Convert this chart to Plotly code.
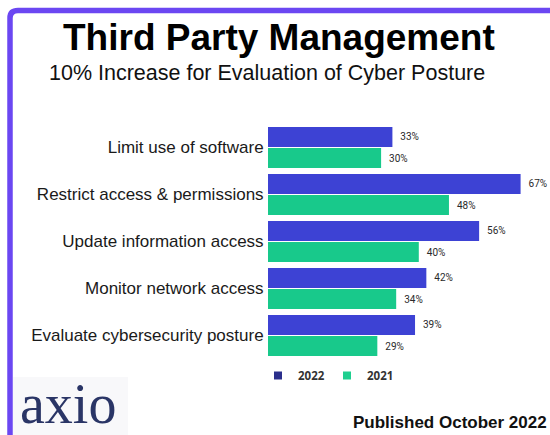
import plotly.graph_objects as go

categories = ["Limit use of software", "Restrict access & permissions",
              "Update information access", "Monitor network access",
              "Evaluate cybersecurity posture"]
values_2022 = [33, 67, 56, 42, 39]
values_2021 = [30, 48, 40, 34, 29]
series_names = ["2022", "2021"]

W, H = 550, 435
L, R, T, B = 268, 4, 124, 76
PW, PH = W - L - R, H - T - B

def px(x):
    return (x - L) / PW

def py(y):
    return (H - B - y) / PH

blue = "#3D42D4"
green = "#18C98B"
legend_blue = "#2B2F8C"
legend_green = "#1FCF8F"

fig = go.Figure()
for name, vals, col in [(series_names[0], values_2022, blue), (series_names[1], values_2021, green)]:
    fig.add_trace(go.Bar(
        y=categories, x=vals, orientation="h", name=name,
        marker=dict(color=col, line=dict(width=0)),
        text=[f"{v}%" for v in vals], texttemplate="  %{text}",
        textposition="outside", cliponaxis=False,
        textfont=dict(family="Liberation Sans Narrow, Roboto, Arial", size=10, color="#2A2A2A"),
        showlegend=False,
    ))

for name, col in [(series_names[0], legend_blue), (series_names[1], legend_green)]:
    fig.add_trace(go.Scatter(
        x=[None], y=[None], mode="markers", name=name,
        marker=dict(symbol="square", size=8, color=col), showlegend=True,
    ))

shapes = [
    dict(type="rect", xref="paper", yref="paper", x0=px(13), x1=px(128), y0=py(377), y1=py(437),
         fillcolor="#F8F8FA", line=dict(width=0), layer="below"),
    dict(type="path", xref="paper", yref="paper",
         path=(f"M {px(10)},{py(440)} L {px(10)},{py(18)} "
               f"Q {px(10)},{py(10.5)} {px(18)},{py(10.5)} L {px(555)},{py(10.5)}"),
         line=dict(color="#6B47F2", width=5.5)),
]

annotations = [
    dict(text="<b>Third Party Management</b>", x=px(279), y=py(38), xref="paper", yref="paper",
         showarrow=False, xanchor="center", yanchor="middle",
         font=dict(family="Liberation Sans, Arial", size=37, color="#000000")),
    dict(text="10% Increase for Evaluation of Cyber Posture", x=px(267), y=py(73), xref="paper", yref="paper",
         showarrow=False, xanchor="center", yanchor="middle",
         font=dict(family="Liberation Sans, Arial", size=21.5, color="#111111")),
    dict(text="axio", x=px(18), y=py(404), xref="paper", yref="paper",
         showarrow=False, xanchor="left", yanchor="middle",
         font=dict(family="Liberation Serif, Times New Roman, serif", size=56, color="#2A3566")),
    dict(text="<b>Published October 2022</b>", x=px(549), y=py(422), xref="paper", yref="paper",
         showarrow=False, xanchor="right", yanchor="middle",
         font=dict(family="Liberation Sans, Arial", size=17, color="#111111")),
]

fig.update_layout(
    width=W, height=H,
    margin=dict(l=L, r=R, t=T, b=B, pad=0),
    paper_bgcolor="white", plot_bgcolor="white",
    barmode="group", bargap=0.1, bargroupgap=0.05,
    xaxis=dict(range=[0, PW / 3.77], visible=False, fixedrange=True),
    yaxis=dict(autorange="reversed", showgrid=False, showline=False, zeroline=False,
               ticks="outside", ticklen=0, tickcolor="rgba(0,0,0,0)",
               tickfont=dict(family="Liberation Sans, Arial", size=17, color="#1A1A1A")),
    legend=dict(orientation="h", x=px(258), y=py(361), xanchor="left", yanchor="top",
                font=dict(family="Open Sans, Arial", size=11.5, color="#333333", weight="bold"),
                bgcolor="rgba(0,0,0,0)", itemwidth=30, tracegroupgap=0,
                entrywidth=24, entrywidthmode="pixels"),
    shapes=shapes,
    annotations=annotations,
)

fig.write_html("out.html", config={"displayModeBar": False},
               post_script="document.body.style.margin='0';document.body.style.overflow='hidden';")
